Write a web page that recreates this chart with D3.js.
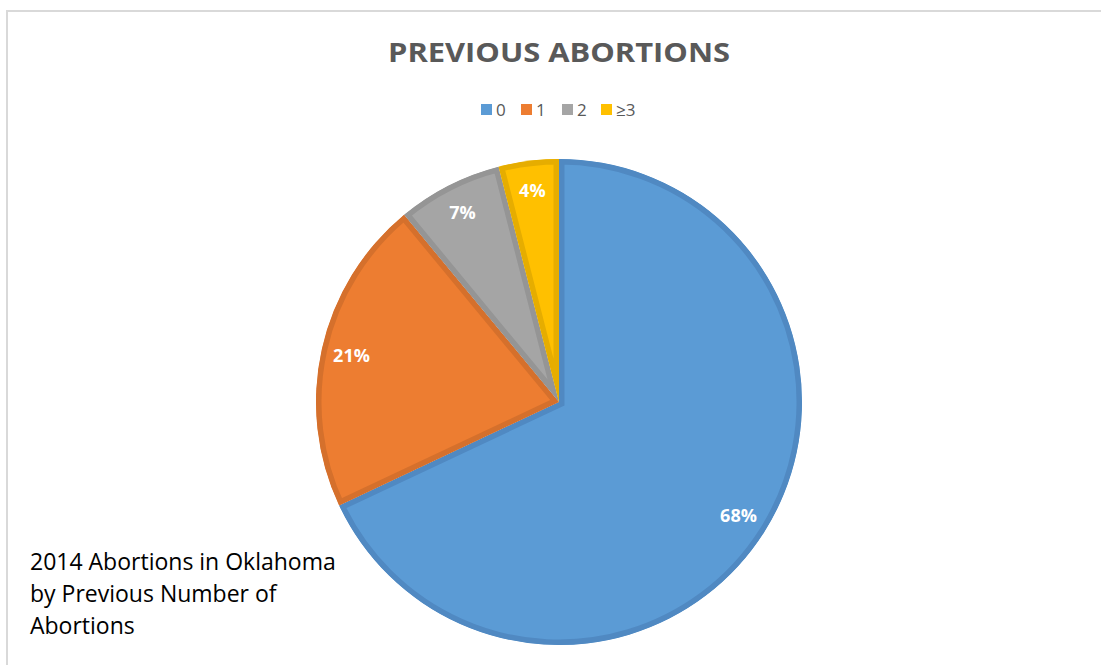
<!DOCTYPE html>
<html>
<head>
<meta charset="utf-8">
<script src="https://cdn.jsdelivr.net/npm/d3@7"></script>
<style>
body{margin:0;background:#fff;}
svg{display:block;}
</style>
</head>
<body>
<div id="chart"></div>
<script>
// data
const categories = ["0", "1", "2", "\u22653"];
const shares = [68, 21, 7, 4];
const fills = ["#5B9BD5", "#ED7D31", "#A5A5A5", "#FFC000"];
const edges = ["#5089C2", "#D5702C", "#959595", "#E6AD00"];
const titleText = "PREVIOUS ABORTIONS";
const noteLines = ["2014 Abortions in Oklahoma", "by Previous Number of", "Abortions"];

const width = 1101, height = 665;
const cx = 559, cy = 402, radius = 243;

let svg = d3.select("#chart").append("svg").attr("width", width).attr("height", height);

// chart frame
svg.append("rect").attr("x", 7).attr("y", 11).attr("width", 1200).attr("height", 800)
.attr("fill", "#fff").attr("stroke", "#d9d9d9").attr("stroke-width", 2);

// title
svg.append("text").attr("x", cx).attr("y", 62).attr("text-anchor", "middle")
.attr("font-family", "Open Sans, sans-serif").attr("font-weight", "bold").attr("font-size", 27)
.attr("fill", "#595959").attr("textLength", 342).attr("lengthAdjust", "spacingAndGlyphs")
.text(titleText);

// legend
let legendX = d3.scaleOrdinal().domain(categories).range([481, 521, 562, 601]);
let legend = svg.append("g").selectAll("g").data(categories).enter().append("g")
.attr("transform", d => "translate(" + legendX(d) + ",104)");
legend.append("rect").attr("width", 11).attr("height", 11).attr("fill", (d, i) => fills[i]);
legend.append("text").attr("x", 15).attr("y", 12)
.attr("font-family", "Open Sans, sans-serif").attr("font-size", 17).attr("fill", "#595959")
.text(d => d);

// pie
let pie = d3.pie().sort(null).value(d => d);
let arcs = pie(shares);
let arc = d3.arc().innerRadius(0).outerRadius(radius);
let labelArc = d3.arc().innerRadius(radius * 0.875).outerRadius(radius * 0.875);

let g = svg.append("g").attr("transform", "translate(" + cx + "," + cy + ")");
let defs = svg.append("defs");
defs.selectAll("clipPath").data(arcs).enter().append("clipPath")
.attr("id", (d, i) => "slice" + i)
.append("path").attr("d", arc);

g.selectAll("path.slice").data(arcs).enter().append("path")
.attr("class", "slice")
.attr("d", arc)
.attr("fill", (d, i) => fills[i])
.attr("stroke", (d, i) => edges[i])
.attr("stroke-width", 11)
.attr("stroke-linejoin", "miter")
.attr("clip-path", (d, i) => "url(#slice" + i + ")");

g.selectAll("text.lbl").data(arcs).enter().append("text")
.attr("class", "lbl")
.attr("transform", d => "translate(" + labelArc.centroid(d) + ")")
.attr("text-anchor", "middle").attr("dy", "0.35em")
.attr("font-family", "Open Sans, sans-serif").attr("font-weight", "bold").attr("font-size", 18)
.attr("fill", "#fff")
.text(d => d.data + "%");

// note
svg.append("g").selectAll("text").data(noteLines).enter().append("text")
.attr("x", 30).attr("y", (d, i) => 570 + i * 32)
.attr("font-family", "Open Sans, sans-serif").attr("font-size", 23).attr("fill", "#000")
.text(d => d);
</script>
</body>
</html>
